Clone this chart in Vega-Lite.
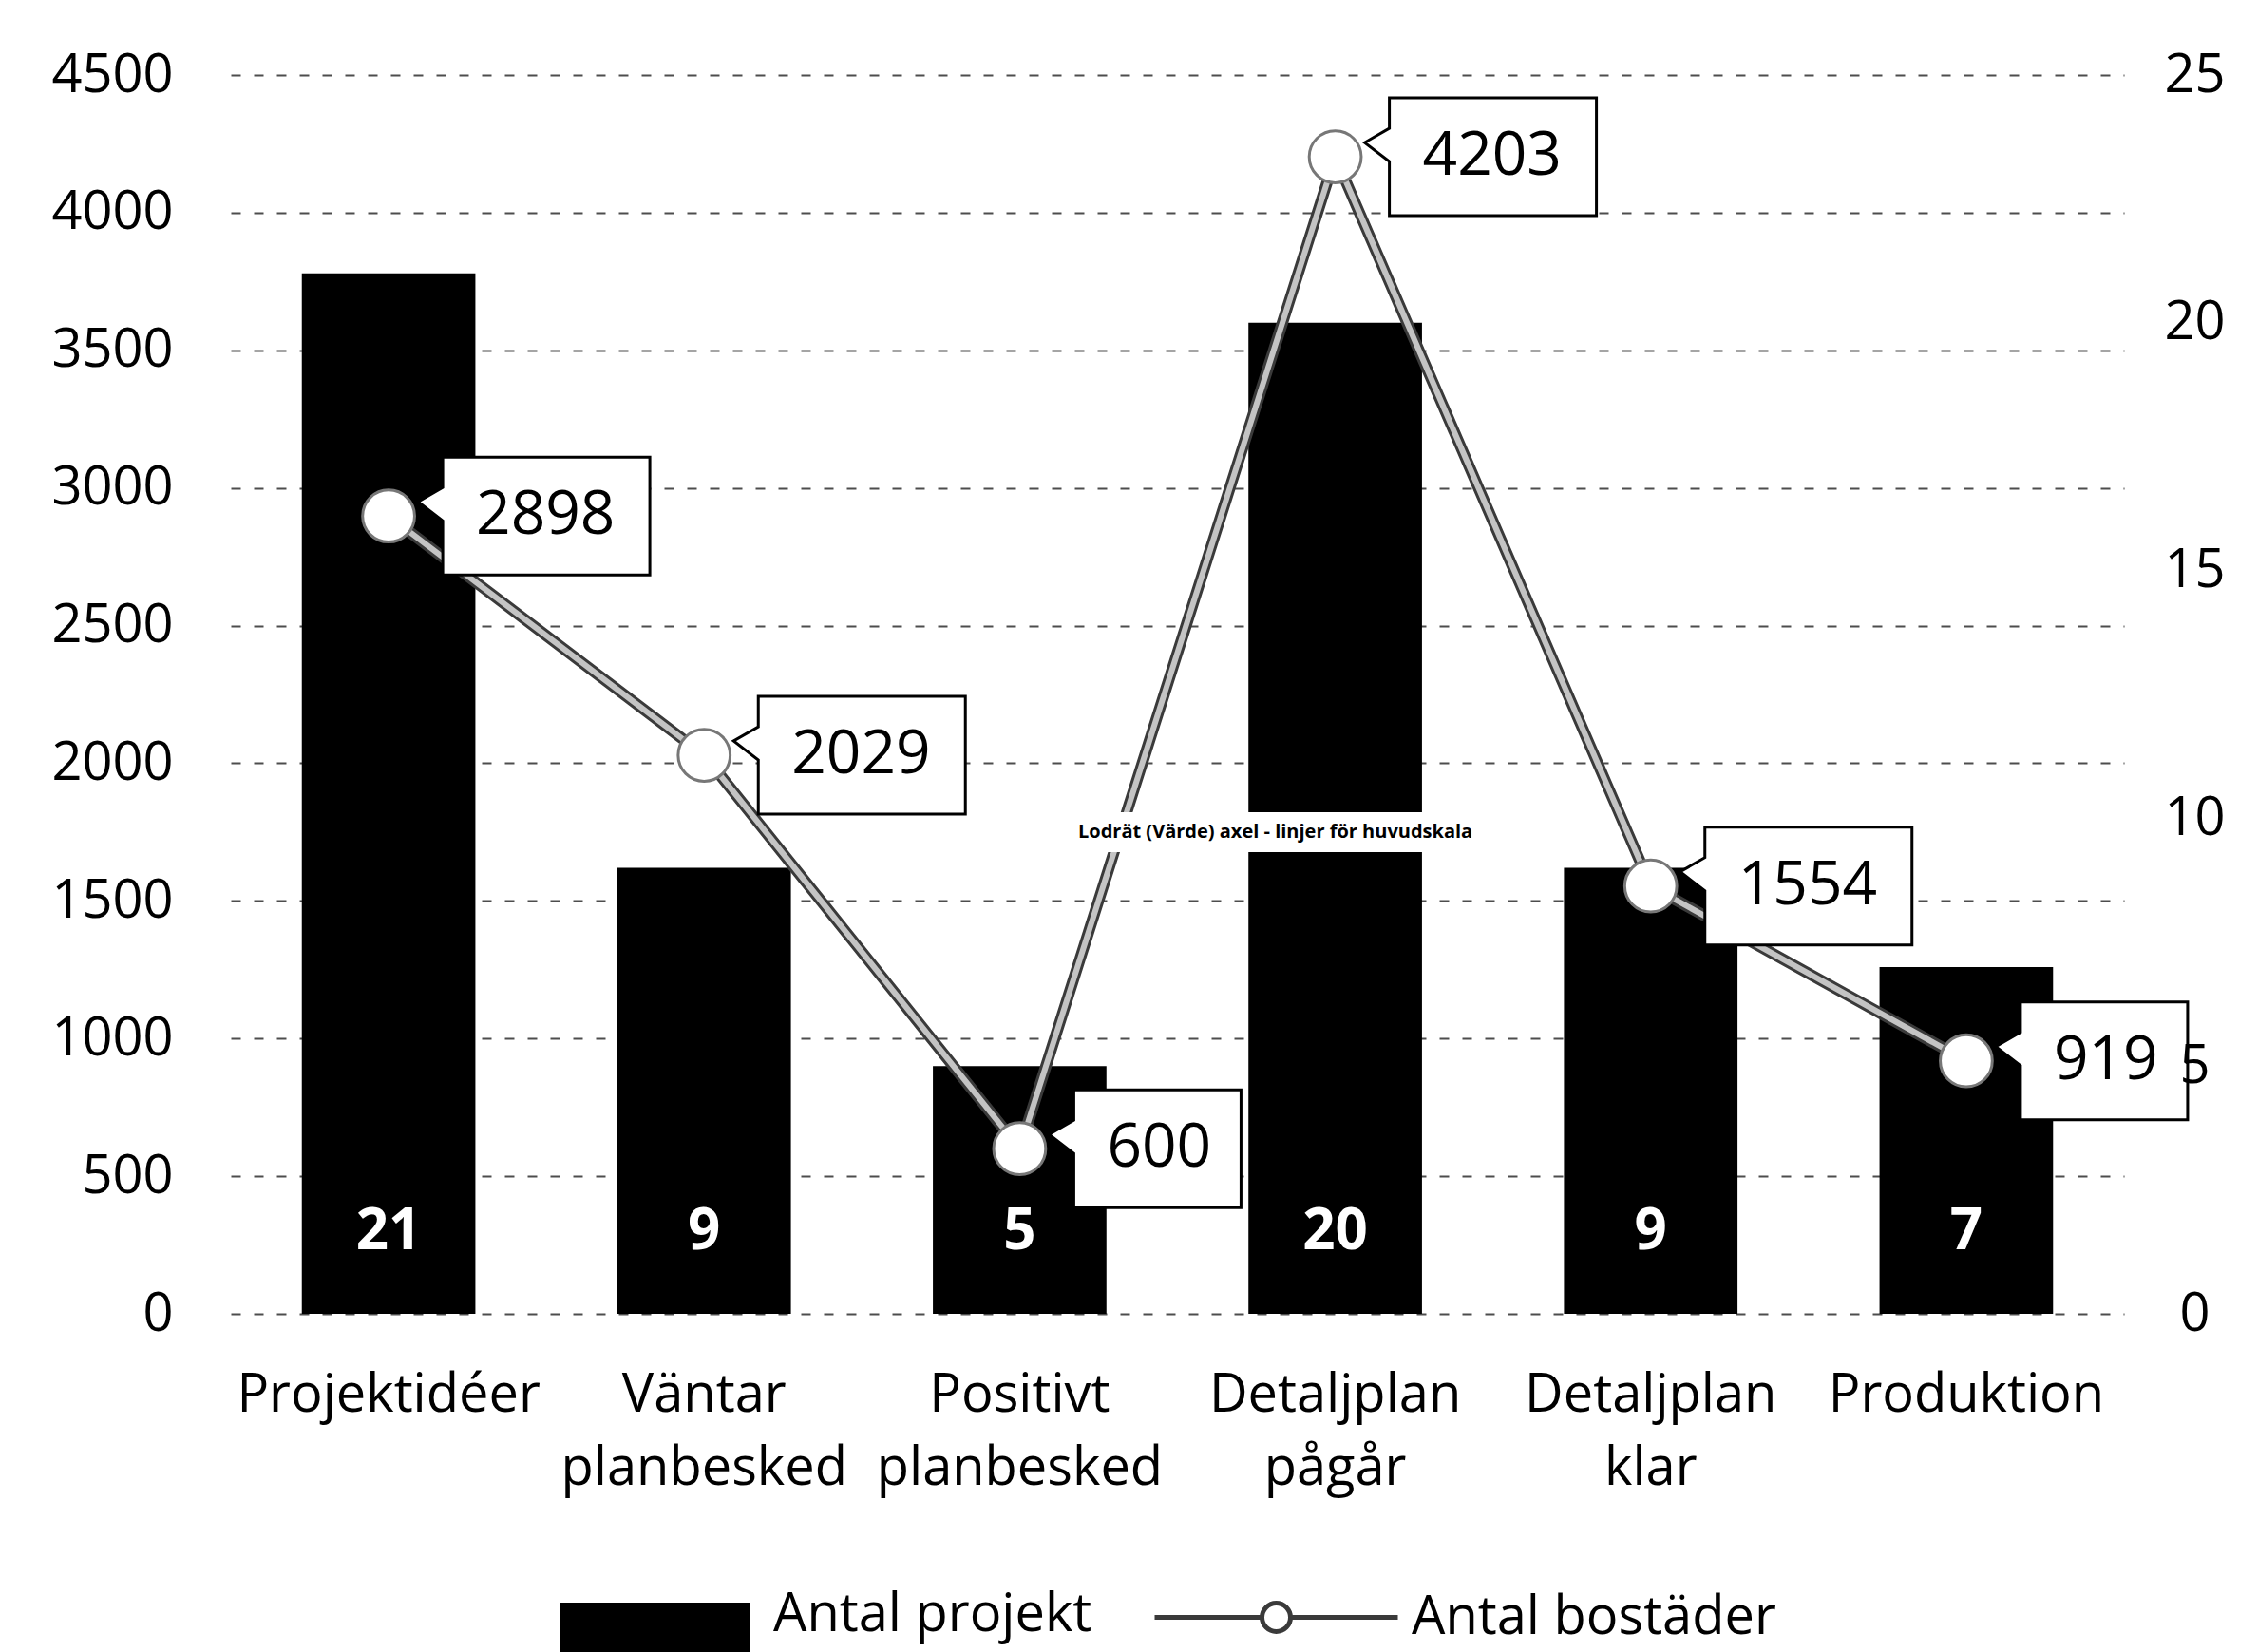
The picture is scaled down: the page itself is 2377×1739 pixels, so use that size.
{
  "$schema": "https://vega.github.io/schema/vega-lite/v6.json",
  "width": 1993,
  "height": 1304,
  "autosize": {"type": "none"},
  "padding": {"left": 243, "top": 79, "right": 141, "bottom": 356},
  "background": "white",
  "config": {
    "view": {"stroke": null},
    "font": "Open Sans",
    "axis": {"labelFont": "Open Sans", "labelColor": "black", "labelFontSize": 56, "labelLimit": 1000, "ticks": false, "domain": false, "title": null},
    "legend": {"labelFont": "Open Sans", "labelFontSize": 56, "labelColor": "black", "labelLimit": 1000, "title": null}
  },
  "data": {
    "values": [
      {"fas": "Projektidéer", "projekt": 21, "bostader": 2898},
      {"fas": "Väntar planbesked", "projekt": 9, "bostader": 2029},
      {"fas": "Positivt planbesked", "projekt": 5, "bostader": 600},
      {"fas": "Detaljplan pågår", "projekt": 20, "bostader": 4203},
      {"fas": "Detaljplan klar", "projekt": 9, "bostader": 1554},
      {"fas": "Produktion", "projekt": 7, "bostader": 919}
    ]
  },
  "encoding": {
    "x": {
      "field": "fas",
      "type": "nominal",
      "sort": null,
      "scale": {"paddingInner": 0.45, "paddingOuter": 0.225},
      "axis": {"labelAngle": 0, "labelExpr": "split(datum.label, ' ')", "labelLineHeight": 77, "labelPadding": 58, "grid": false}
    }
  },
  "layer": [
    {
      "layer": [
        {
          "mark": {"type": "bar"},
          "encoding": {
            "y": {
              "field": "projekt",
              "type": "quantitative",
              "scale": {"domain": [0, 25], "nice": false},
              "axis": {"orient": "right", "values": [0, 5, 10, 15, 20, 25], "grid": false, "labelPadding": 74, "labelAlign": "center", "zindex": 1, "title": null}
            },
            "fill": {
              "datum": "Antal projekt",
              "scale": {"domain": ["Antal projekt"], "range": ["#000000"]},
              "legend": {
                "orient": "none",
                "legendX": 346,
                "legendY": 1521,
                "direction": "horizontal",
                "symbolType": "M-1,-0.13H1V0.6H-1Z",
                "symbolSize": 40000,
                "symbolStrokeWidth": 0,
                "labelOffset": 25
              }
            }
          }
        },
        {
          "mark": {"type": "text", "color": "white", "fontSize": 60, "fontWeight": "bold", "font": "Open Sans", "baseline": "middle", "dy": -86},
          "encoding": {
            "y": {"datum": 0},
            "text": {"field": "projekt", "type": "quantitative"}
          }
        }
      ]
    },
    {
      "layer": [
        {
          "mark": {"type": "line", "strokeWidth": 12, "strokeJoin": "round"},
          "encoding": {
            "y": {
              "field": "bostader",
              "type": "quantitative",
              "scale": {"domain": [0, 4500], "nice": false},
              "axis": {"orient": "left", "values": [0, 500, 1000, 1500, 2000, 2500, 3000, 3500, 4000, 4500], "format": "d", "grid": true, "gridColor": "#4d4d4d", "gridDash": [10, 14], "gridWidth": 2, "labelPadding": 61, "title": null}
            },
            "stroke": {
              "datum": "Antal bostäder",
              "scale": {"domain": ["Antal bostäder"], "range": ["#3a3a3a"]},
              "legend": {
                "orient": "none",
                "legendX": 998,
                "legendY": 1521,
                "direction": "horizontal",
                "symbolType": "M-1.28,0H-0.15M0.15,0H1.28M-0.15,0A0.15,0.15,0,1,1,0.15,0A0.15,0.15,0,1,1,-0.15,0Z",
                "symbolSize": 40000,
                "symbolStrokeWidth": 5,
                "symbolStrokeColor": "#666666",
                "symbolFillColor": "white",
                "labelOffset": 40
              }
            }
          }
        },
        {
          "mark": {"type": "line", "strokeWidth": 6, "color": "#c4c4c4", "strokeJoin": "round"},
          "encoding": {"y": {"field": "bostader", "type": "quantitative"}}
        },
        {
          "mark": {"type": "point", "shape": "circle", "filled": true, "fill": "white", "stroke": "#777777", "strokeWidth": 3, "size": 3000, "opacity": 1},
          "encoding": {"y": {"field": "bostader", "type": "quantitative"}}
        },
        {
          "mark": {"type": "point", "filled": true, "fill": "white", "stroke": "black", "strokeWidth": 3, "size": 10000, "opacity": 1},
          "encoding": {
            "y": {"field": "bostader", "type": "quantitative"},
            "shape": {
              "condition": {"test": "datum.bostader < 1000", "value": "M1.14,-1.24H4.66V1.24H1.14V0.1L0.62,-0.3L1.14,-0.6Z"},
              "value": "M1.14,-1.24H5.5V1.24H1.14V0.1L0.62,-0.3L1.14,-0.6Z"
            }
          }
        },
        {
          "mark": {"type": "text", "align": "left", "baseline": "middle", "dx": 92, "fontSize": 64, "font": "Open Sans", "color": "black"},
          "encoding": {
            "y": {"field": "bostader", "type": "quantitative"},
            "text": {"field": "bostader", "type": "quantitative", "format": "d"}
          }
        },
        {
          "data": {"values": [{"fas": "Detaljplan pågår", "bostader": 1750, "note": "Lodrät (Värde) axel - linjer för huvudskala"}]},
          "mark": {"type": "point", "filled": true, "fill": "white", "strokeWidth": 0, "size": 10000, "opacity": 1, "shape": "M-6.06,-0.42H3.54V0.42H-6.06Z"},
          "encoding": {"y": {"field": "bostader", "type": "quantitative"}}
        },
        {
          "data": {"values": [{"fas": "Detaljplan pågår", "bostader": 1750, "note": "Lodrät (Värde) axel - linjer för huvudskala"}]},
          "mark": {"type": "text", "align": "center", "baseline": "middle", "dx": -63, "fontSize": 20, "fontWeight": "bold", "font": "Open Sans", "color": "black"},
          "encoding": {
            "y": {"field": "bostader", "type": "quantitative"},
            "text": {"field": "note"}
          }
        }
      ]
    }
  ],
  "resolve": {"scale": {"y": "independent"}}
}
